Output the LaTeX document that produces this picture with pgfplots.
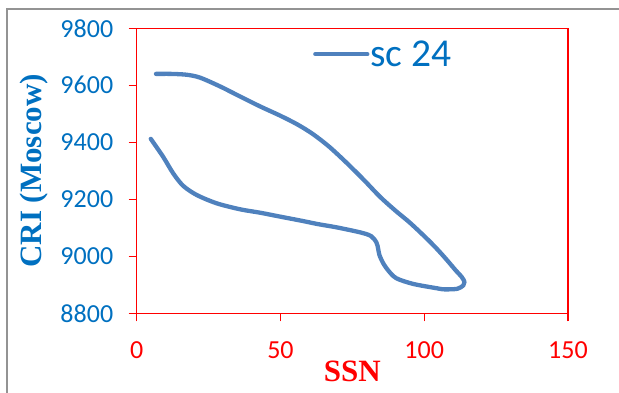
\documentclass[border=0pt]{standalone}
\usepackage{pgfplots}
\pgfplotsset{compat=1.18}
\usepackage{fontspec}
\setmainfont{Carlito}
\newfontfamily\serifbold{Liberation Serif}
\definecolor{lineblue}{HTML}{4F81BD}
\definecolor{txtblue}{HTML}{0070C0}
\begin{document}
\begin{tikzpicture}[x=1bp,y=1bp]
\path[use as bounding box] (0,0) rectangle (619,392);
\draw[gray!85, line width=1.3bp] (7,-20) -- (7,383) -- (640,383);
\begin{axis}[
  at={(136.7bp,78.7bp)}, anchor=south west,
  scale only axis, width=431.3bp, height=285bp,
  xmin=0, xmax=150, ymin=8800, ymax=9800,
  xtick={0,50,100,150}, ytick={8800,9000,9200,9400,9600,9800},
  axis line style={red, line width=1.3bp},
  tick style={red, line width=1.3bp},
  tick pos=left, tick align=outside, major tick length=8bp,
  /pgf/number format/assume math mode=true,
  /pgf/number format/set thousands separator={},
  ticklabel style={font=\fontsize{26bp}{30bp}\selectfont},
  xticklabel style={text=red, yshift=-17bp},
  yticklabel style={text=txtblue, xshift=-12bp},
  xlabel={SSN}, ylabel={CRI (Moscow)},
  xlabel style={font=\serifbold\bfseries\fontsize{31bp}{34bp}\selectfont, text=red, at={(axis description cs:0.5,-0.205)}, anchor=center},
  ylabel style={font=\serifbold\bfseries\fontsize{31bp}{34bp}\selectfont, text=txtblue, at={(axis description cs:-0.238,0.5)}, anchor=center},
  legend style={draw=none, fill=none, inner sep=0pt, at={(axis cs:61.3,9709)}, anchor=west,
    font=\fontsize{39.5bp}{42bp}\selectfont, text=txtblue, nodes={inner sep=1bp}},
  legend image code/.code={\draw[#1] (0bp,0bp) -- (52bp,0bp);},
]
\addplot[lineblue, line width=4.3bp, line cap=round, line join=round, smooth, tension=0.5] coordinates {
(6.7,9640) (12,9640) (17.4,9637) (22,9627) (29,9596) (35.9,9561) (42.9,9526)
(50,9493) (56,9462) (61.4,9428) (67,9384) (73,9328) (79,9268) (84.6,9209)
(90,9160) (95,9118) (100.8,9063) (104.5,9025) (107.8,8988) (111,8950) (113,8928)
(114,8910) (113.6,8898) (111.5,8886) (107,8884) (104.3,8888) (96.2,8903)
(90.3,8923) (87.5,8950) (85.6,8978) (84.4,9005) (84,9025) (83.4,9048) (81.5,9071)
(77.7,9084) (69.3,9102) (63,9113) (57.7,9124) (50,9139) (42.9,9153) (35.9,9165)
(27.8,9186) (20.9,9215) (16.2,9247) (12.7,9291) (9.2,9349) (4.9,9412)
};
\addlegendentry{sc 24}
\end{axis}
\end{tikzpicture}
\end{document}
